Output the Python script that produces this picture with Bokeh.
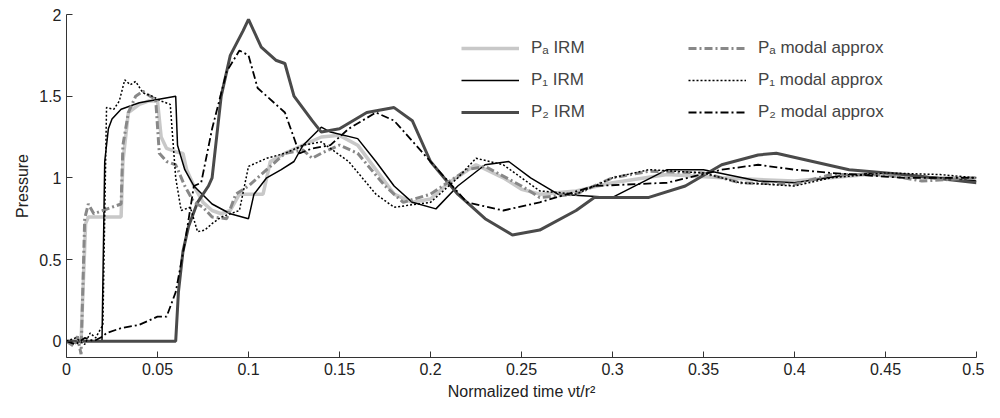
from bokeh.plotting import figure
from bokeh.models import Legend, LegendItem, Range1d
from bokeh.embed import file_html
from bokeh.resources import INLINE

pa_irm_x = [0, 0.008, 0.0105, 0.012, 0.03, 0.031, 0.034, 0.04, 0.045, 0.05, 0.052, 0.055, 0.06, 0.064, 0.066, 0.07, 0.075, 0.08, 0.085, 0.09, 0.095, 0.108, 0.112, 0.12, 0.13, 0.14, 0.15, 0.16, 0.17, 0.18, 0.19, 0.2, 0.21, 0.225, 0.24, 0.25, 0.26, 0.28, 0.3, 0.33, 0.36, 0.4, 0.44, 0.47, 0.5]
pa_irm_y = [0, 0, 0.72, 0.76, 0.76, 1.1, 1.4, 1.45, 1.47, 1.47, 1.25, 1.18, 1.16, 1.15, 1.05, 0.95, 0.85, 0.8, 0.78, 0.8, 0.9, 0.9, 1.1, 1.15, 1.2, 1.25, 1.26, 1.2, 1.05, 0.9, 0.85, 0.87, 0.97, 1.08, 1.0, 0.93, 0.9, 0.92, 0.97, 1.02, 1.0, 0.98, 1.02, 1.0, 1.0]

pa_mod_x = [0, 0.004, 0.006, 0.008, 0.01, 0.012, 0.015, 0.02, 0.025, 0.03, 0.031, 0.034, 0.038, 0.042, 0.046, 0.049, 0.051, 0.055, 0.06, 0.065, 0.07, 0.075, 0.08, 0.088, 0.093, 0.1, 0.11, 0.12, 0.13, 0.135, 0.14, 0.15, 0.16, 0.175, 0.185, 0.2, 0.22, 0.23, 0.25, 0.26, 0.28, 0.3, 0.32, 0.35, 0.37, 0.4, 0.42, 0.45, 0.47, 0.5]
pa_mod_y = [0, -0.03, 0.03, -0.08, 0.75, 0.84, 0.78, 0.8, 0.82, 0.84, 1.2, 1.4, 1.5, 1.53, 1.5, 1.48, 1.15, 1.1, 1.08, 0.95, 0.85, 0.82, 0.76, 0.75, 0.9, 0.95, 1.05, 1.15, 1.17, 1.12, 1.15, 1.2, 1.15, 0.95, 0.85, 0.9, 1.05, 1.07, 0.95, 0.88, 0.9, 1.0, 1.04, 1.03, 0.97, 0.96, 1.02, 1.02, 0.98, 1.0]

p1_irm_x = [0, 0.0195, 0.021, 0.023, 0.025, 0.03, 0.04, 0.05, 0.06, 0.061, 0.065, 0.07, 0.08, 0.09, 0.1, 0.103, 0.11, 0.118, 0.125, 0.13, 0.14, 0.145, 0.16, 0.17, 0.18, 0.19, 0.203, 0.215, 0.23, 0.243, 0.255, 0.27, 0.3, 0.33, 0.35, 0.38, 0.4, 0.43, 0.45, 0.5]
p1_irm_y = [0, 0, 1.1, 1.3, 1.36, 1.42, 1.46, 1.48, 1.5, 1.2, 1.05, 0.95, 0.84, 0.78, 0.75, 0.9, 1.0, 1.05, 1.1, 1.2, 1.31, 1.28, 1.24, 1.1, 0.95, 0.85, 0.81, 0.95, 1.08, 1.1, 1.0, 0.9, 0.88, 1.05, 1.05, 0.98, 0.97, 1.02, 1.03, 0.98]

p1_mod_x = [0, 0.005, 0.01, 0.013, 0.016, 0.019, 0.02, 0.022, 0.026, 0.029, 0.032, 0.035, 0.038, 0.042, 0.047, 0.052, 0.057, 0.06, 0.063, 0.068, 0.072, 0.076, 0.08, 0.085, 0.095, 0.1, 0.11, 0.12, 0.13, 0.14, 0.155, 0.17, 0.18, 0.2, 0.215, 0.225, 0.24, 0.26, 0.28, 0.3, 0.32, 0.35, 0.37, 0.4, 0.42, 0.45, 0.48, 0.5]
p1_mod_y = [0, 0.02, -0.02, 0.05, 0.02, 0.08, 0.1, 1.43, 1.42, 1.47, 1.6, 1.57, 1.59, 1.52, 1.5, 1.47, 1.45, 1.0, 0.8, 0.82, 0.67, 0.68, 0.72, 0.76, 0.8, 1.07, 1.12, 1.15, 1.2, 1.22, 1.1, 0.9, 0.82, 0.85, 1.0, 1.12, 1.08, 0.92, 0.9, 1.0, 1.05, 1.03, 0.97, 0.95, 1.0, 1.03, 1.02, 1.0]

p2_irm_x = [0, 0.06, 0.0615, 0.064, 0.067, 0.072, 0.078, 0.08, 0.085, 0.09, 0.097, 0.1, 0.107, 0.115, 0.12, 0.125, 0.135, 0.14, 0.15, 0.165, 0.18, 0.19, 0.2, 0.215, 0.23, 0.245, 0.26, 0.28, 0.29, 0.32, 0.34, 0.36, 0.38, 0.39, 0.41, 0.43, 0.46, 0.5]
p2_irm_y = [0, 0, 0.3, 0.55, 0.7, 0.85, 0.95, 1.0, 1.5, 1.75, 1.9, 1.97, 1.8, 1.72, 1.7, 1.5, 1.35, 1.28, 1.3, 1.4, 1.43, 1.35, 1.1, 0.9, 0.75, 0.65, 0.68, 0.8, 0.88, 0.88, 0.95, 1.08, 1.14, 1.15, 1.1, 1.05, 1.02, 0.97]

p2_mod_x = [0, 0.005, 0.01, 0.015, 0.02, 0.022, 0.03, 0.04, 0.05, 0.055, 0.06, 0.065, 0.07, 0.074, 0.08, 0.088, 0.095, 0.1, 0.105, 0.115, 0.12, 0.128, 0.135, 0.145, 0.155, 0.17, 0.18, 0.2, 0.22, 0.24, 0.26, 0.29, 0.33, 0.36, 0.38, 0.4, 0.42, 0.46, 0.5]
p2_mod_y = [0, -0.02, 0.02, 0.0, 0.03, 0.05, 0.08, 0.1, 0.15, 0.15, 0.3, 0.6, 0.95, 0.97, 1.3, 1.65, 1.78, 1.75, 1.55, 1.45, 1.4, 1.15, 1.18, 1.2, 1.3, 1.4, 1.35, 1.1, 0.85, 0.8, 0.85, 0.95, 0.97, 1.05, 1.08, 1.05, 1.03, 1.0, 1.0]

FONT = "Liberation Sans"

p = figure(width=984, height=402, output_backend="svg", toolbar_location=None,
           x_range=Range1d(0, 0.5), y_range=Range1d(-0.1, 2.0),
           min_border_left=66, min_border_right=8, min_border_top=14, min_border_bottom=43)
p.outline_line_color = None
p.grid.visible = False

r1 = p.line(pa_irm_x, pa_irm_y, color="#c8c8c8", line_width=3.5)
r2 = p.line(p1_irm_x, p1_irm_y, color="black", line_width=1.5)
r3 = p.line(p2_irm_x, p2_irm_y, color="#4a4a4a", line_width=3)
r4 = p.line(pa_mod_x, pa_mod_y, color="#888888", line_width=3, line_dash="8 3 2 3")
r5 = p.line(p1_mod_x, p1_mod_y, color="black", line_width=1.5, line_dash="2 2")
r6 = p.line(p2_mod_x, p2_mod_y, color="black", line_width=1.8, line_dash="8 3 2 3")

p.xaxis.axis_label = "Normalized time \u03bdt/r\u00b2"
p.yaxis.axis_label = "Pressure"
p.xaxis.ticker = [0, 0.05, 0.1, 0.15, 0.2, 0.25, 0.3, 0.35, 0.4, 0.45, 0.5]
p.yaxis.ticker = [0, 0.5, 1, 1.5, 2]
for ax in (p.xaxis[0], p.yaxis[0]):
    ax.major_tick_in = 6
    ax.major_tick_out = 0
    ax.minor_tick_line_color = None
    ax.axis_line_color = "#333333"
    ax.major_tick_line_color = "#333333"
    ax.major_label_text_font = FONT
    ax.major_label_text_font_size = "16px"
    ax.axis_label_text_font = FONT
    ax.axis_label_text_font_size = "16px"
    ax.axis_label_text_font_style = "normal"
    ax.major_label_text_color = "#222222"
    ax.axis_label_text_color = "#222222"


def make_legend(items, loc):
    lg = Legend(items=items, location=loc, border_line_color=None, background_fill_alpha=0,
                label_text_font=FONT, label_text_font_size="17px", glyph_width=58,
                spacing=12, margin=0, padding=0, label_standoff=12)
    p.add_layout(lg)


make_legend([
    LegendItem(label="P\u2090 IRM", renderers=[r1]),
    LegendItem(label="P\u2081 IRM", renderers=[r2]),
    LegendItem(label="P\u2082 IRM", renderers=[r3]),
], (395, 235))
make_legend([
    LegendItem(label="P\u2090 modal approx", renderers=[r4]),
    LegendItem(label="P\u2081 modal approx", renderers=[r5]),
    LegendItem(label="P\u2082 modal approx", renderers=[r6]),
], (622, 235))

open("out.html", "w").write(file_html(p, INLINE))
